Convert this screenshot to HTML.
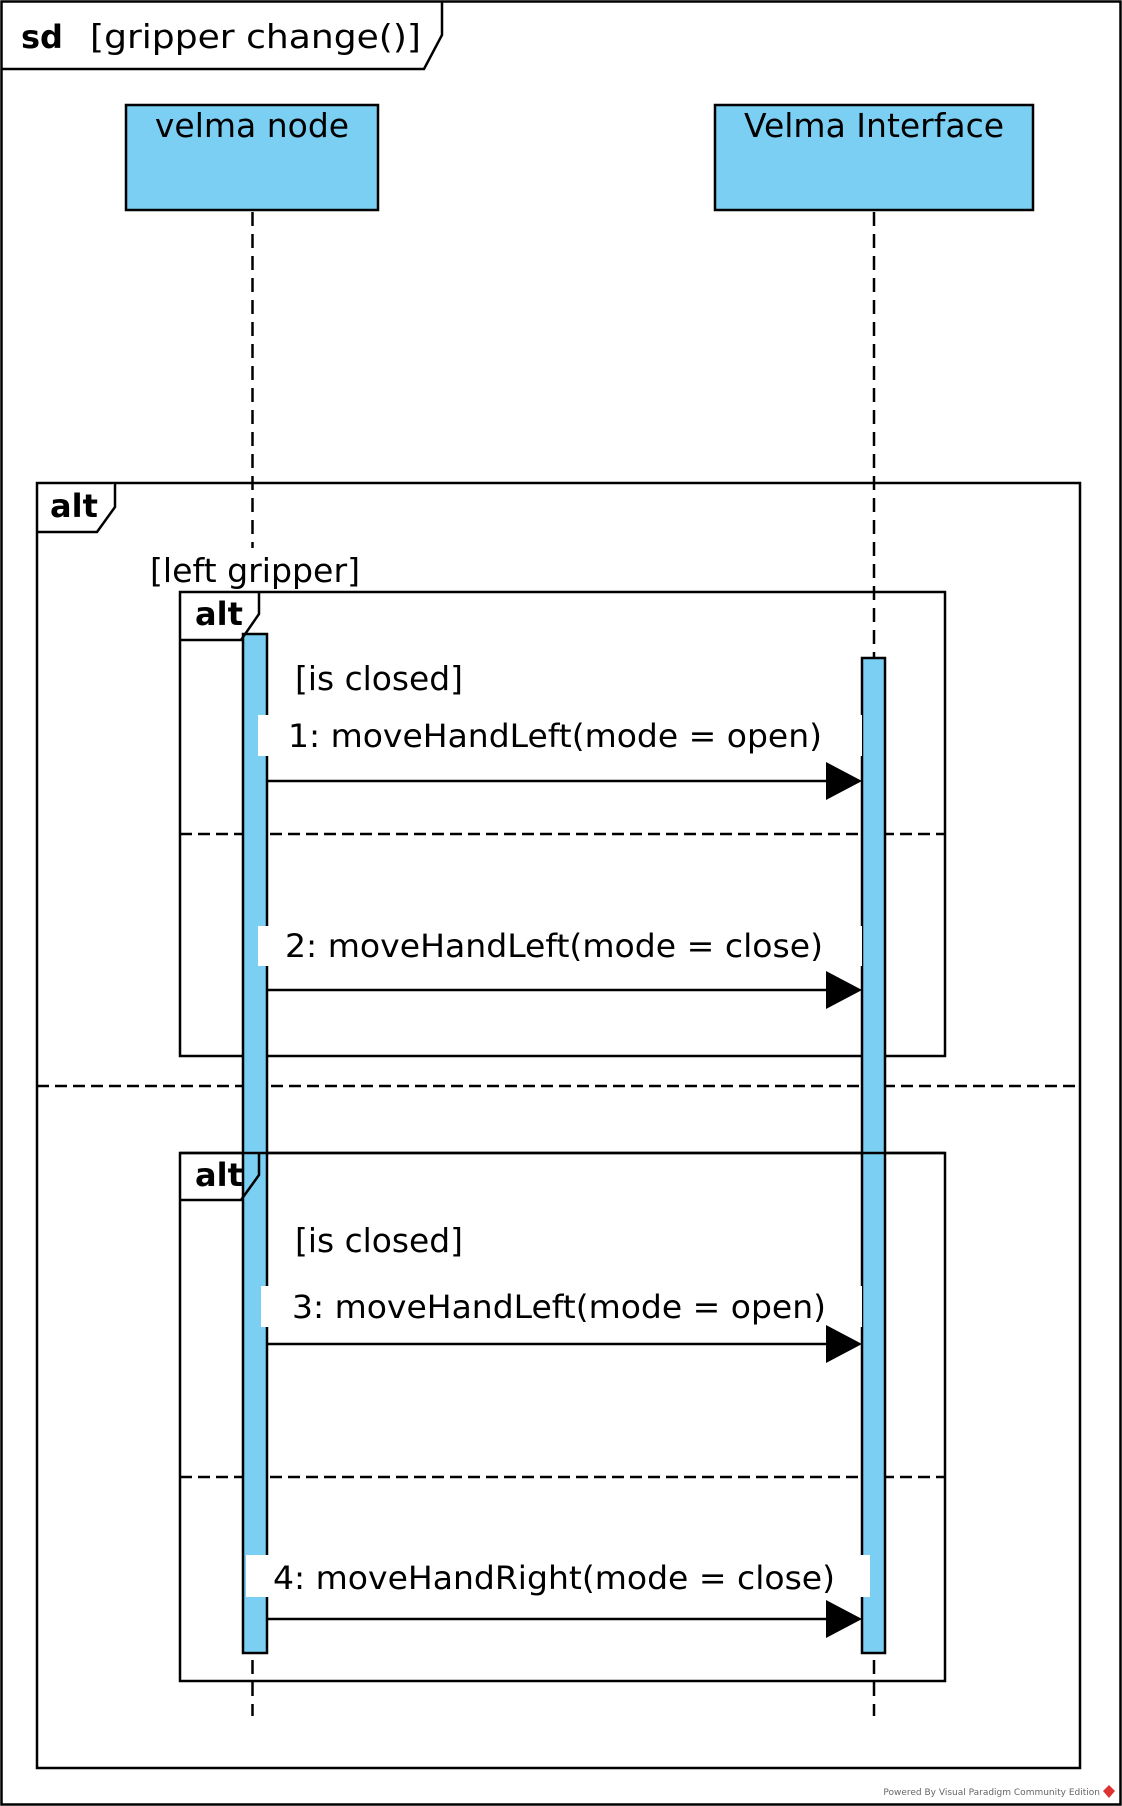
<!DOCTYPE html>
<html><head><meta charset="utf-8"><style>
html,body{margin:0;padding:0;background:#fff}
svg{display:block}
text{font-family:"DejaVu Sans","Liberation Sans",sans-serif;fill:#000}
</style></head><body>
<svg width="1122" height="1806" viewBox="0 0 1122 1806" xmlns="http://www.w3.org/2000/svg">
<rect x="1.5" y="1.5" width="1119" height="1803" fill="#fff" stroke="#000" stroke-width="2.5"/>
<path d="M1.5 69 L424 69 L442 35 L442 1.5" fill="none" stroke="#000" stroke-width="2.5"/>
<text x="21" y="48" font-size="32" font-weight="bold">sd</text>
<text x="90" y="48" font-size="33" textLength="331" lengthAdjust="spacingAndGlyphs">[gripper change()]</text>

<rect x="126" y="105" width="252" height="105" fill="#7bcff3" stroke="#000" stroke-width="2.5"/>
<text x="252" y="137" font-size="33" text-anchor="middle">velma node</text>
<rect x="715" y="105" width="318" height="105" fill="#7bcff3" stroke="#000" stroke-width="2.5"/>
<text x="874" y="137" font-size="33" text-anchor="middle">Velma Interface</text>

<g stroke="#000" stroke-width="2.5" stroke-dasharray="14,8" fill="none">
<line x1="252.5" y1="212" x2="252.5" y2="548"/>
<line x1="874" y1="212" x2="874" y2="658"/>
<line x1="252.5" y1="1660" x2="252.5" y2="1716"/>
<line x1="874" y1="1660" x2="874" y2="1716"/>
</g>

<rect x="37" y="483" width="1043" height="1285" fill="none" stroke="#000" stroke-width="2.5"/>
<path d="M37 532 L97 532 L115 507 L115 483" fill="#fff" stroke="#000" stroke-width="2.5"/>
<text x="50" y="517" font-size="32" font-weight="bold">alt</text>
<rect x="148" y="552" width="215" height="38" fill="#fff"/>
<text x="150" y="582" font-size="33" textLength="210" lengthAdjust="spacingAndGlyphs">[left gripper]</text>
<line x1="37" y1="1086" x2="1080" y2="1086" stroke="#000" stroke-width="2.5" stroke-dasharray="12,6"/>

<rect x="180" y="592" width="765" height="464" fill="none" stroke="#000" stroke-width="2.5"/>
<line x1="180" y1="834" x2="945" y2="834" stroke="#000" stroke-width="2.5" stroke-dasharray="12,6"/>
<rect x="180" y="1153" width="765" height="528" fill="none" stroke="#000" stroke-width="2.5"/>
<line x1="180" y1="1477" x2="945" y2="1477" stroke="#000" stroke-width="2.5" stroke-dasharray="12,6"/>

<rect x="243" y="634" width="24" height="1019" fill="#7bcff3" stroke="#000" stroke-width="2.5"/>
<rect x="862" y="658" width="23" height="995" fill="#7bcff3" stroke="#000" stroke-width="2.5"/>

<path d="M180 640 L241 640 L259 614 L259 592" fill="none" stroke="#000" stroke-width="2.5"/>
<path d="M180 1200 L241 1200 L259 1175 L259 1153" fill="none" stroke="#000" stroke-width="2.5"/>
<line x1="180" y1="1153" x2="945" y2="1153" stroke="#000" stroke-width="2.5"/>
<text x="195" y="625" font-size="32" font-weight="bold">alt</text>
<text x="195" y="1186" font-size="32" font-weight="bold">alt</text>

<text x="295" y="690" font-size="33" textLength="168" lengthAdjust="spacingAndGlyphs">[is closed]</text>
<text x="295" y="1252" font-size="33" textLength="168" lengthAdjust="spacingAndGlyphs">[is closed]</text>

<rect x="258" y="715" width="604" height="41" fill="#fff"/>
<text x="288" y="747" font-size="32" textLength="534" lengthAdjust="spacingAndGlyphs">1: moveHandLeft(mode = open)</text>
<rect x="258" y="926" width="604" height="40" fill="#fff"/>
<text x="285" y="957" font-size="32" textLength="538" lengthAdjust="spacingAndGlyphs">2: moveHandLeft(mode = close)</text>
<rect x="261" y="1286" width="601" height="41" fill="#fff"/>
<text x="292" y="1318" font-size="32" textLength="534" lengthAdjust="spacingAndGlyphs">3: moveHandLeft(mode = open)</text>
<rect x="246" y="1555" width="624" height="42" fill="#fff"/>
<text x="273" y="1589" font-size="32" textLength="562" lengthAdjust="spacingAndGlyphs">4: moveHandRight(mode = close)</text>

<g stroke="#000" stroke-width="2.5">
<line x1="266" y1="781" x2="830" y2="781"/>
<line x1="266" y1="990" x2="830" y2="990"/>
<line x1="266" y1="1344" x2="830" y2="1344"/>
<line x1="266" y1="1619" x2="830" y2="1619"/>
</g>
<g fill="#000">
<polygon points="826,762 862,781 826,800"/>
<polygon points="826,971 862,990 826,1009"/>
<polygon points="826,1325 862,1344 826,1363"/>
<polygon points="826,1600 862,1619 826,1638"/>
</g>

<text x="1100" y="1795" font-size="9" text-anchor="end" style="fill:#666">Powered By Visual Paradigm Community Edition</text>
<polygon points="1109,1785 1115,1791 1109,1798 1103,1791" fill="#d33"/>
</svg>
</body></html>
